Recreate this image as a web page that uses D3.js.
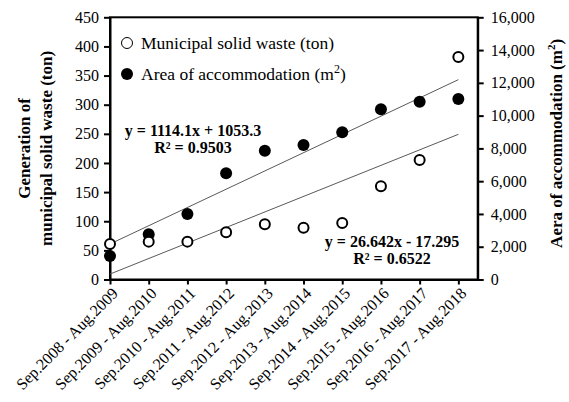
<!DOCTYPE html>
<html>
<head>
<meta charset="utf-8">
<script src="https://cdn.jsdelivr.net/npm/d3@7"></script>
<style>
  body { margin: 0; background: #fff; }
  svg { display: block; font-family: "Liberation Serif", "Times New Roman", serif; }
</style>
</head>
<body>
<div id="chart"></div>
<script>
// data
const periods = [
  "Sep.2008 - Aug.2009", "Sep.2009 - Aug.2010", "Sep.2010 - Aug.2011",
  "Sep.2011 - Aug.2012", "Sep.2012 - Aug.2013", "Sep.2013 - Aug.2014",
  "Sep.2014 - Aug.2015", "Sep.2015 - Aug.2016", "Sep.2016 - Aug.2017",
  "Sep.2017 - Aug.2018"
];
const wasteTon = [61, 65, 65, 81, 95, 89, 97, 160, 205, 382];
const areaM2 = [1430, 2760, 4000, 6480, 7860, 8210, 8980, 10390, 10850, 11010];
const leftTicks = [0, 50, 100, 150, 200, 250, 300, 350, 400, 450];
const rightTicks = [0, 2000, 4000, 6000, 8000, 10000, 12000, 14000, 16000];
// trendline coefficients as printed on the chart (x = 1..10)
const wasteFit = { slope: 26.642, intercept: -17.295, r2: "0.6522" };
const areaFit = { slope: 1114.1, intercept: 1053.3, r2: "0.9503" };

const w = 569, h = 402;
const margin = { left: 110, right: 91.3, top: 17.3, bottom: 122.5 };

const svg = d3.select("#chart").append("svg")
  .attr("width", w).attr("height", h);

const x = d3.scaleLinear()
  .domain([0, 9.5])
  .range([margin.left, w - margin.right]);
const yL = d3.scaleLinear()
  .domain([0, 450])
  .range([h - margin.bottom, margin.top]);
const yR = d3.scaleLinear()
  .domain([0, 16000])
  .range([h - margin.bottom, margin.top]);

const fontSize = 16;

// frame
svg.append("rect")
  .attr("x", x(0)).attr("y", margin.top)
  .attr("width", x(9.5) - x(0)).attr("height", yL(0) - margin.top)
  .attr("fill", "none").attr("stroke", "#000").attr("stroke-width", 2);

// axes
const xAxis = svg.append("g")
  .attr("transform", `translate(0, ${yL(0)})`)
  .call(d3.axisBottom(x).tickValues(d3.range(10)).tickFormat(() => "").tickSize(5).tickSizeOuter(0));

const leftAxis = svg.append("g")
  .attr("transform", `translate(${x(0)}, 0)`)
  .call(d3.axisLeft(yL).tickValues(leftTicks).tickSize(6).tickSizeOuter(0).tickPadding(5));

const rightAxis = svg.append("g")
  .attr("transform", `translate(${x(9.5)}, 0)`)
  .call(d3.axisRight(yR).tickValues(rightTicks).tickSize(6).tickSizeOuter(0).tickPadding(7)
    .tickFormat(d3.format(",")));

[xAxis, leftAxis, rightAxis].forEach(a => {
  a.selectAll("path").attr("stroke", "#000").attr("stroke-width", 2);
  a.selectAll("line").attr("stroke", "#000").attr("stroke-width", 2);
  a.selectAll("text")
    .attr("fill", "#000")
    .attr("font-size", fontSize)
    .attr("font-family", "Liberation Serif, Times New Roman, serif");
});

// rotated category labels
svg.append("g").selectAll("text")
  .data(periods)
  .join("text")
  .attr("transform", (d, i) => `translate(${x(i) + 5}, ${yL(0) + 11}) rotate(-45)`)
  .attr("text-anchor", "end")
  .attr("dy", "0.35em")
  .attr("font-size", 16)
  .attr("fill", "#000")
  .text(d => d);

// trendlines
const areaLine = d3.line()
  .x(i => x(i))
  .y(i => yR(areaFit.slope * (i + 1) + areaFit.intercept));
const wasteLine = d3.line()
  .x(i => x(i))
  .y(i => yL(wasteFit.slope * (i + 1) + wasteFit.intercept));

svg.append("path").datum([0, 9])
  .attr("d", areaLine)
  .attr("fill", "none").attr("stroke", "#595959").attr("stroke-width", 1);
svg.append("path").datum([0, 9])
  .attr("d", wasteLine)
  .attr("fill", "none").attr("stroke", "#595959").attr("stroke-width", 1);

// markers
svg.append("g").selectAll("circle")
  .data(areaM2)
  .join("circle")
  .attr("cx", (d, i) => x(i))
  .attr("cy", d => yR(d))
  .attr("r", 6)
  .attr("fill", "#000");

svg.append("g").selectAll("circle")
  .data(wasteTon)
  .join("circle")
  .attr("cx", (d, i) => x(i))
  .attr("cy", d => yL(d))
  .attr("r", 5)
  .attr("fill", "#fff")
  .attr("stroke", "#000")
  .attr("stroke-width", 2);

// legend
const legFont = 17.5;
const legend = svg.append("g").attr("transform", "translate(127, 43)");
legend.append("circle").attr("r", 5.5)
  .attr("fill", "#fff").attr("stroke", "#000").attr("stroke-width", 1);
legend.append("text").attr("x", 14).attr("dy", "0.33em")
  .attr("font-size", legFont).text("Municipal solid waste (ton)");
legend.append("circle").attr("cy", 31).attr("r", 6).attr("fill", "#000");
const lt = legend.append("text").attr("x", 14).attr("y", 31).attr("dy", "0.33em")
  .attr("font-size", legFont);
lt.append("tspan").text("Area of accommodation (m");
lt.append("tspan").attr("font-size", 12).attr("dy", "-0.6em").text("2");
lt.append("tspan").attr("font-size", legFont).attr("dy", "0.4em").text(")");

// equations
const eq = (cx, cy, line1, r2) => {
  const g = svg.append("g")
    .attr("font-weight", "bold").attr("font-size", 16).attr("text-anchor", "middle");
  g.append("text").attr("x", cx).attr("y", cy).text(line1);
  g.append("text").attr("x", cx).attr("y", cy + 17).text(`R² = ${r2}`);
};
eq(193, 136, `y = ${areaFit.slope}x + ${areaFit.intercept}`, areaFit.r2);
eq(392, 247, `y = ${wasteFit.slope}x - ${Math.abs(wasteFit.intercept)}`, wasteFit.r2);

// axis titles
const midY = (margin.top + yL(0)) / 2;
const lTitle = svg.append("text")
  .attr("transform", `translate(30, ${midY}) rotate(-90)`)
  .attr("text-anchor", "middle").attr("font-weight", "bold").attr("font-size", 17);
lTitle.append("tspan").attr("x", 0).attr("y", 0).text("Generation of");
lTitle.append("tspan").attr("x", 0).attr("y", 22).text("municipal solid waste (ton)");

const rTitle = svg.append("text")
  .attr("transform", `translate(562, ${midY - 5}) rotate(-90)`)
  .attr("text-anchor", "middle").attr("font-weight", "bold").attr("font-size", 17);
rTitle.append("tspan").text("Aera of accommodation (m");
rTitle.append("tspan").attr("font-size", 11).attr("dy", "-0.6em").text("2");
rTitle.append("tspan").attr("font-size", 17).attr("dy", "0.4em").text(")");
</script>
</body>
</html>
